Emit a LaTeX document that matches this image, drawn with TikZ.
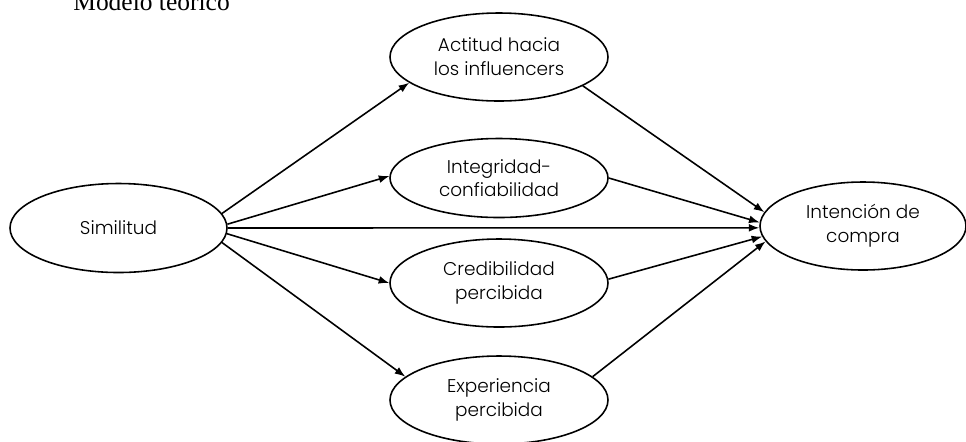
\documentclass[tikz,border=0pt]{standalone}
\usepackage{fontspec}
\setmainfont{Poppins}[UprightFont=* Light]
\newfontfamily\titlefont{Liberation Serif}
\usepackage{tikz}
\usetikzlibrary{shapes.geometric, arrows.meta, positioning}

\begin{document}
\begin{tikzpicture}[
    construct/.style={ellipse, draw=black, line width=0.9pt, inner sep=0pt,
        minimum width=4.36cm, minimum height=1.76cm, align=center,
        font=\fontsize{10.5}{13.5}\selectfont},
    path/.style={-{Latex[length=6pt, width=4.5pt]}, line width=0.9pt}
]
    \useasboundingbox (0,0) rectangle (19.32,-8.82);

    % Title (cut by the page edge)
    \node[anchor=base west, inner sep=0pt, font=\titlefont\fontsize{14.5}{16}\selectfont] (title) at (1.46,-0.2) {Modelo teórico};

    % Exogenous and endogenous constructs
    \node[construct, minimum width=4.34cm, minimum height=1.78cm] (sim) at (2.37,-4.56) {Similitud};
    \node[construct, minimum width=4.12cm] (int) at (17.26,-4.52) {Intención de\\compra};

    % Mediators
    \node[construct] (act) at (9.98,-1.14) {Actitud hacia\\los influencers};
    \node[construct, minimum height=1.58cm] (ic) at (9.98,-3.56) {Integridad-\\confiabilidad};
    \node[construct] (cred) at (9.98,-5.66) {Credibilidad\\percibida};
    \node[construct] (exp) at (9.98,-8.0) {Experiencia\\percibida};

    % Paths from Similitud
    \draw[path] (sim.8) -- (act.196);
    \draw[path] (sim.2.5) -- (ic.179);
    \draw[path] (sim.0) -- (int.181);
    \draw[path] (sim.-3) -- (cred.180);
    \draw[path] (sim.-8) -- (exp.166);

    % Paths to Intención de compra
    \draw[path] (act.341) -- (int.172);
    \draw[path] (ic.0) -- (int.178);
    \draw[path] (cred.2) -- (int.186);
    \draw[path] (exp.14) -- (int.189);
\end{tikzpicture}
\end{document}
